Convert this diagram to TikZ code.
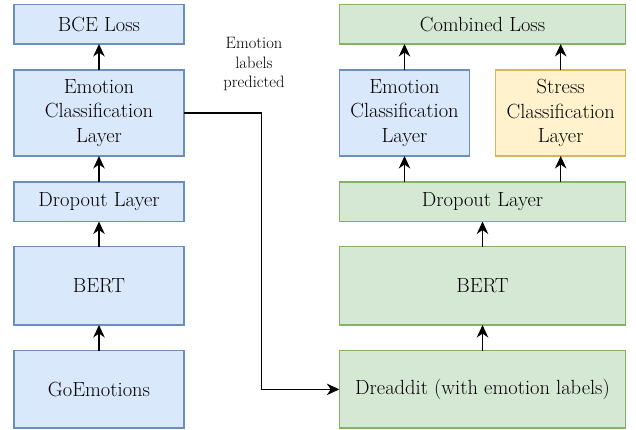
\documentclass[tikz,border=0pt]{standalone}
\usetikzlibrary{arrows.meta}
\definecolor{bfill}{HTML}{DAE8FC}
\definecolor{bline}{HTML}{6C8EBF}
\definecolor{gfill}{HTML}{D5E8D4}
\definecolor{gline}{HTML}{82B366}
\definecolor{yfill}{HTML}{FFF2CC}
\definecolor{yline}{HTML}{D6B656}
\tikzset{
  box/.style={draw, line width=1.1pt, rectangle, align=center, inner sep=0pt, outer sep=0pt,
    font=\fontsize{20.5}{24.2}\selectfont},
  bluebox/.style={box, fill=bfill, draw=bline},
  greenbox/.style={box, fill=gfill, draw=gline},
  yellowbox/.style={box, fill=yfill, draw=yline},
  arr/.style={line width=1.1pt, -{Stealth[length=12.5pt,width=11.5pt,inset=4pt]}},
  lbl/.style={align=center, font=\fontsize{16.5}{19.6}\selectfont}
}
\begin{document}
\begin{tikzpicture}[x=1pt,y=-1pt]
\useasboundingbox (0,0) rectangle (636,429);
% left column
\node[bluebox, minimum width=170pt, minimum height=39.3pt] (bce) at (99,24.35) {BCE Loss};
\node[bluebox, minimum width=170pt, minimum height=86pt] (ecl) at (99,113) {Emotion\\Classification\\Layer};
\node[bluebox, minimum width=170pt, minimum height=39.5pt] (dl) at (99,201.75) {Dropout Layer};
\node[bluebox, minimum width=170pt, minimum height=78.3pt] (bertl) at (99,285.85) {BERT};
\node[bluebox, minimum width=170pt, minimum height=77.3pt] (goe) at (99,389.35) {GoEmotions};
% right column
\node[greenbox, minimum width=286.4pt, minimum height=39.3pt] (cl) at (482.5,24.35) {Combined Loss};
\node[bluebox, minimum width=130.4pt, minimum height=86pt] (ecr) at (404.5,113) {Emotion\\Classification\\Layer};
\node[yellowbox, minimum width=130pt, minimum height=86pt] (scl) at (560.7,113) {Stress\\Classification\\Layer};
\node[greenbox, minimum width=286.4pt, minimum height=39.5pt] (dr) at (482.5,201.75) {Dropout Layer};
\node[greenbox, minimum width=286.4pt, minimum height=78.3pt] (bertr) at (482.5,285.85) {BERT};
\node[greenbox, minimum width=286.4pt, minimum height=77.3pt] (dread) at (482.5,389.35) {Dreaddit (with emotion labels)};
% label
\node[lbl] (lab) at (254,64) {Emotion\\labels\\predicted};
% left arrows
\draw[arr] (goe) -- (bertl);
\draw[arr] (bertl) -- (dl);
\draw[arr] (dl) -- (ecl);
\draw[arr] (ecl) -- (bce);
% right arrows
\draw[arr] (dread) -- (bertr);
\draw[arr] (bertr) -- (dr);
\draw[arr] (dr.north -| ecr) -- (ecr.south);
\draw[arr] (dr.north -| scl) -- (scl.south);
\draw[arr] (ecr.north) -- (ecr.north |- cl.south);
\draw[arr] (scl.north) -- (scl.north |- cl.south);
% cross connector
\coordinate (bend) at (261.7,0);
\draw[arr] (ecl.east) -- (ecl.east -| bend) -- (bend |- dread.west) -- (dread.west);
\end{tikzpicture}
\end{document}
